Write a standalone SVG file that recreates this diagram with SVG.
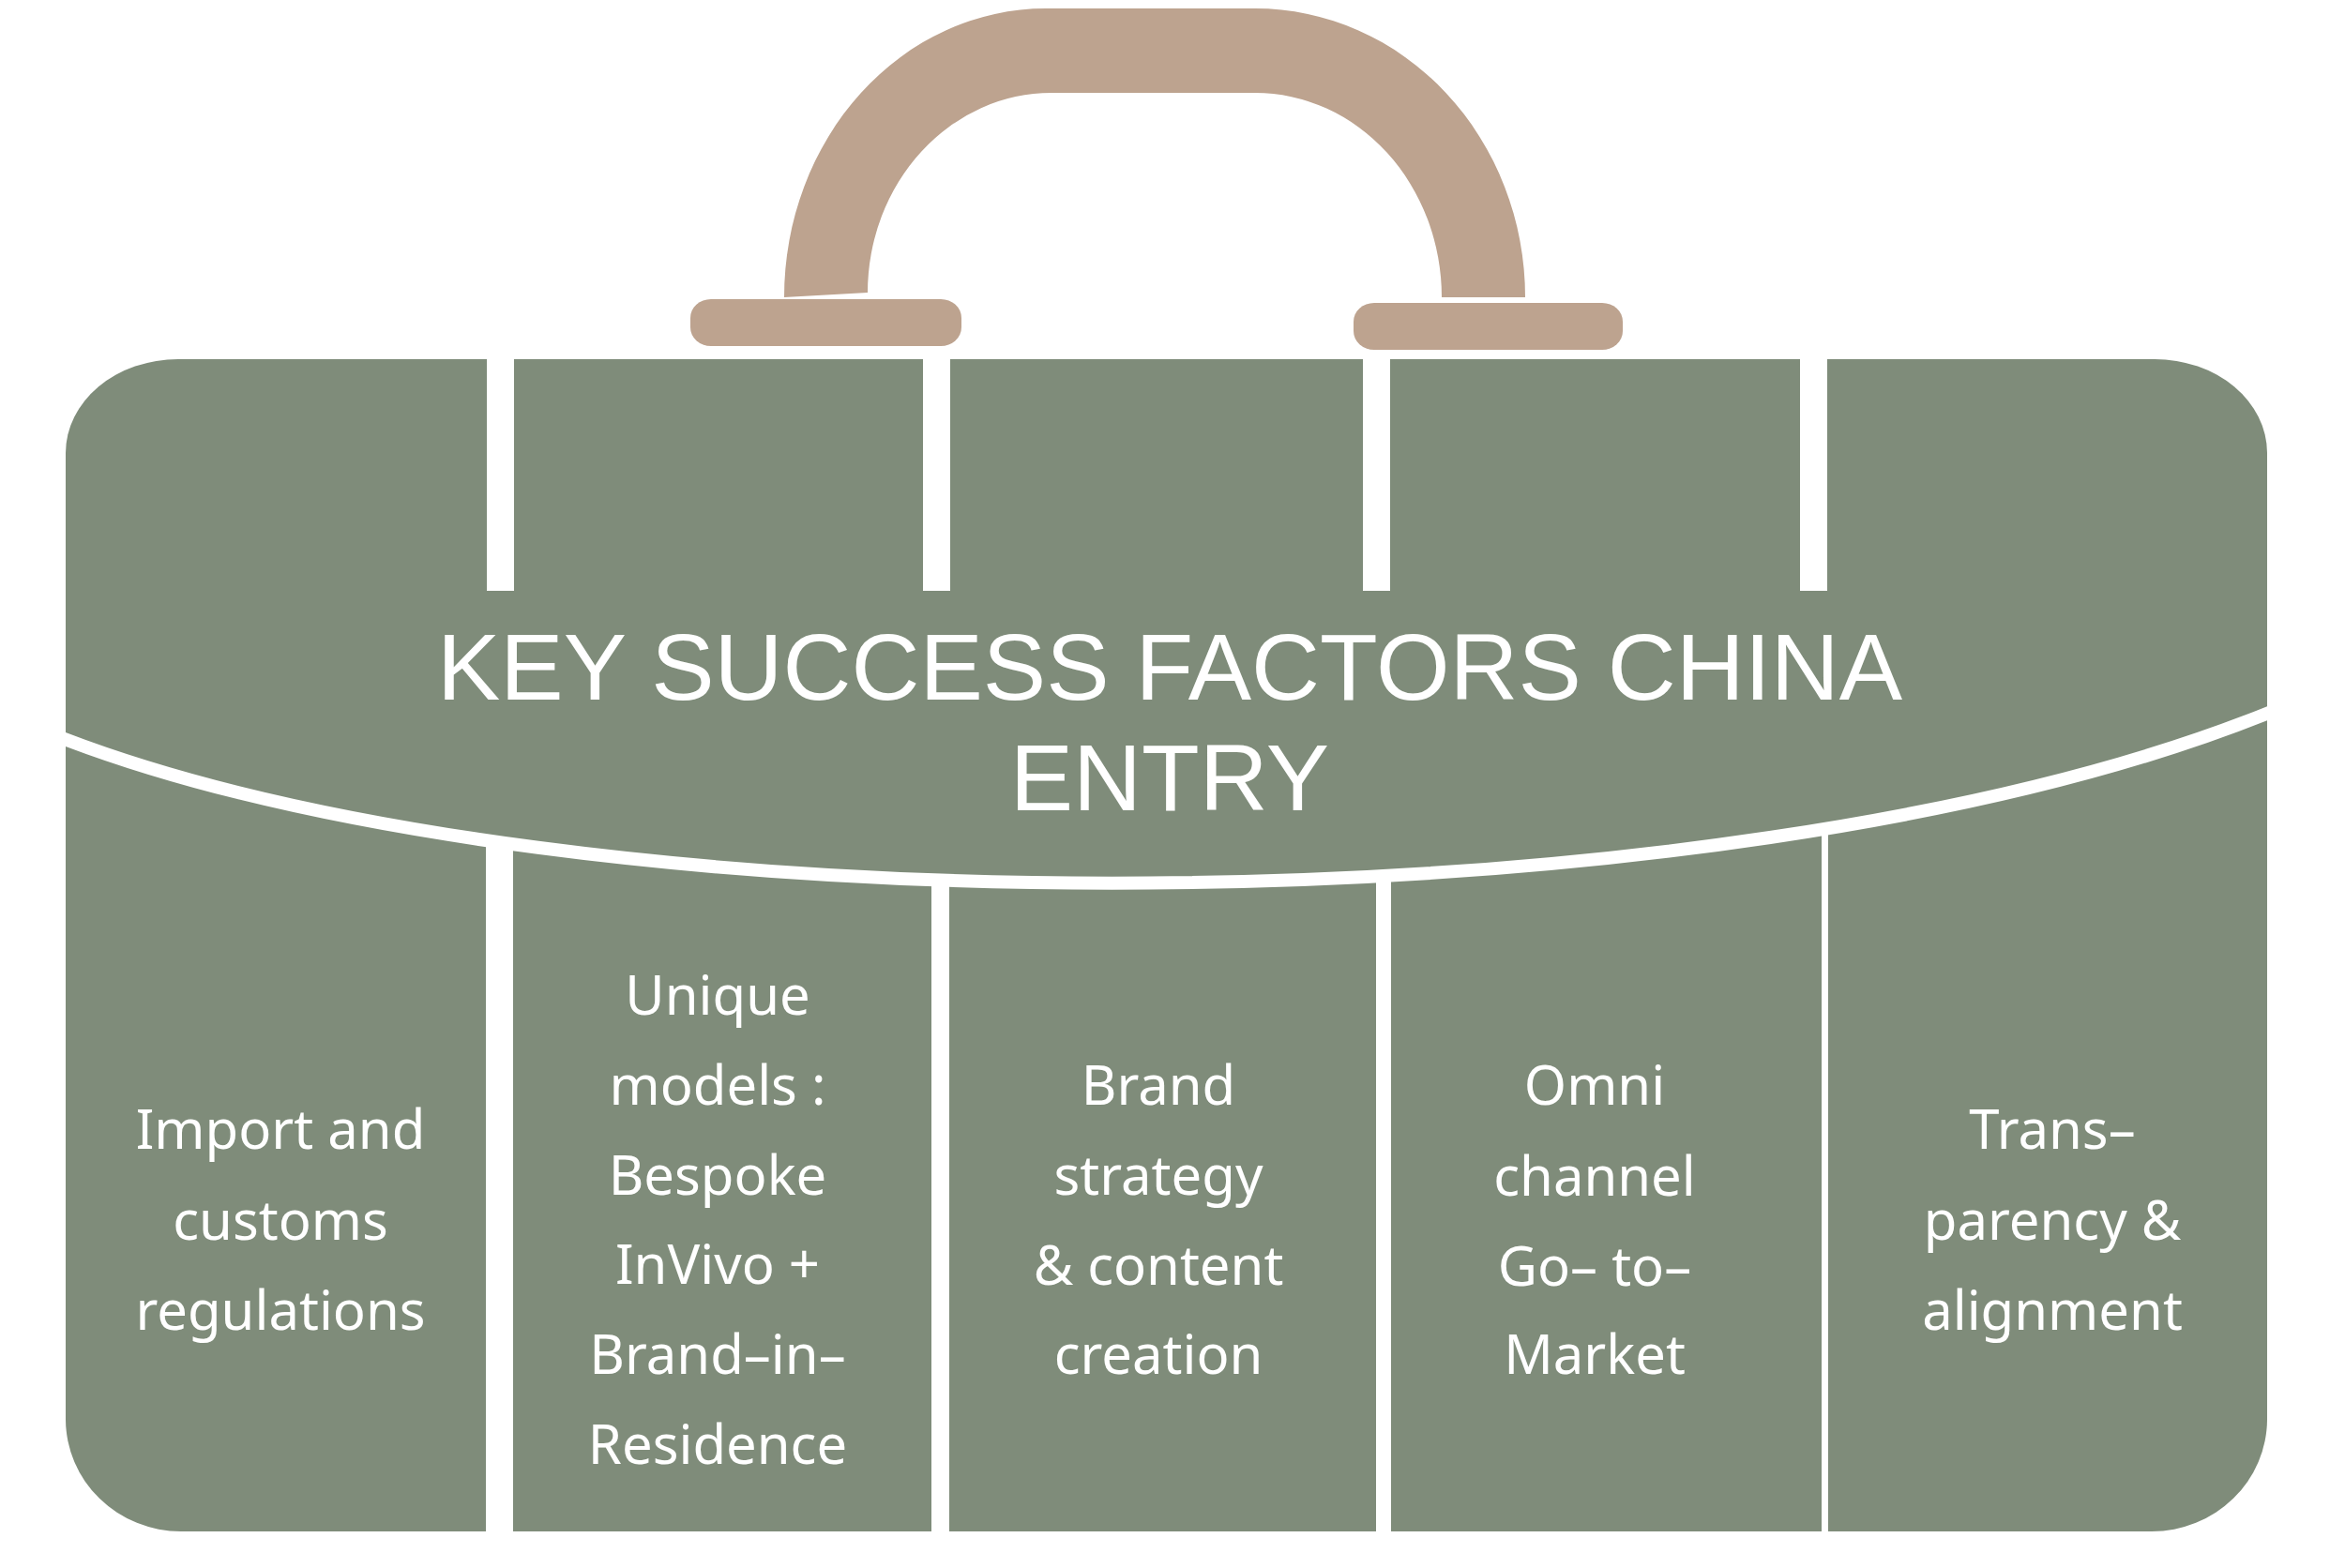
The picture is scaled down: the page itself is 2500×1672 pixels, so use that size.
<svg xmlns="http://www.w3.org/2000/svg" width="2500" height="1672" viewBox="0 0 2500 1672">
<style>
.body{fill:#7F8C7A;}
.tan{fill:#BDA38F;}
.gap{fill:#FFFFFF;}
.title{font-family:"Liberation Sans",Arial,sans-serif;font-size:101px;fill:#FFFFFF;text-anchor:middle;}
.lbl{font-family:"Noto Sans","Liberation Sans",Arial,sans-serif;font-size:58px;fill:#FFFFFF;text-anchor:middle;}
</style>
<defs>
<clipPath id="bodyClip">
<path d="M190 383 H2297 A120 100 0 0 1 2417 483 V1513 A123 120 0 0 1 2294 1633 H193 A123 120 0 0 1 70 1513 V483 A120 100 0 0 1 190 383 Z"/>
</clipPath>
</defs>
<rect width="2500" height="1672" fill="#FFFFFF"/>
<g id="handle">
<path class="tan" d="M836 317 A279 308 0 0 1 1115 9 H1338 A288 308 0 0 1 1626 317 H1537 A199 218 0 0 0 1338 99 H1121 A196 213 0 0 0 925 312 Z"/>
<rect id="foot-left" class="tan" x="736" y="319" width="289" height="50" rx="22" ry="20"/>
<rect id="foot-right" class="tan" x="1443" y="323" width="287" height="50" rx="22" ry="20"/>
</g>
<g id="case">
<path class="body" d="M190 383 H2297 A120 100 0 0 1 2417 483 V1513 A123 120 0 0 1 2294 1633 H193 A123 120 0 0 1 70 1513 V483 A120 100 0 0 1 190 383 Z"/>
</g>
<g id="dividers">
<rect class="gap" x="519" y="376" width="29" height="254"/>
<rect class="gap" x="984" y="376" width="29" height="254"/>
<rect class="gap" x="1453" y="376" width="29" height="254"/>
<rect class="gap" x="1919" y="376" width="29" height="254"/>
<path d="M56 783 C600 998 1840 1000 2431 755" fill="none" stroke="#FFFFFF" stroke-width="14" clip-path="url(#bodyClip)"/>
<rect class="gap" x="518" y="898" width="29" height="742"/>
<rect class="gap" x="993" y="939" width="19" height="701"/>
<rect class="gap" x="1467" y="934" width="16" height="706"/>
<rect class="gap" x="1942" y="884" width="7" height="756"/>
</g>
<g id="title">
<text class="title" x="1247" y="746">KEY SUCCESS FACTORS CHINA</text>
<text class="title" x="1247" y="864">ENTRY</text>
</g>
<g id="factor-1">
<text class="lbl" x="299" y="1225">Import and</text>
<text class="lbl" x="299" y="1322">customs</text>
<text class="lbl" x="299" y="1418">regulations</text>
</g>
<g id="factor-2">
<text class="lbl" x="765" y="1082">Unique</text>
<text class="lbl" x="765" y="1178">models :</text>
<text class="lbl" x="765" y="1274">Bespoke</text>
<text class="lbl" x="765" y="1369">InVivo +</text>
<text class="lbl" x="765" y="1465">Brand–in–</text>
<text class="lbl" x="765" y="1561">Residence</text>
</g>
<g id="factor-3">
<text class="lbl" x="1235" y="1178">Brand</text>
<text class="lbl" x="1235" y="1274">strategy</text>
<text class="lbl" x="1235" y="1370">&amp; content</text>
<text class="lbl" x="1235" y="1465">creation</text>
</g>
<g id="factor-4">
<text class="lbl" x="1700" y="1178">Omni</text>
<text class="lbl" x="1700" y="1275">channel</text>
<text class="lbl" x="1700" y="1371">Go– to–</text>
<text class="lbl" x="1700" y="1465">Market</text>
</g>
<g id="factor-5">
<text class="lbl" x="2188" y="1225">Trans–</text>
<text class="lbl" x="2188" y="1322">parency &amp;</text>
<text class="lbl" x="2188" y="1418">alignment</text>
</g>
</svg>
